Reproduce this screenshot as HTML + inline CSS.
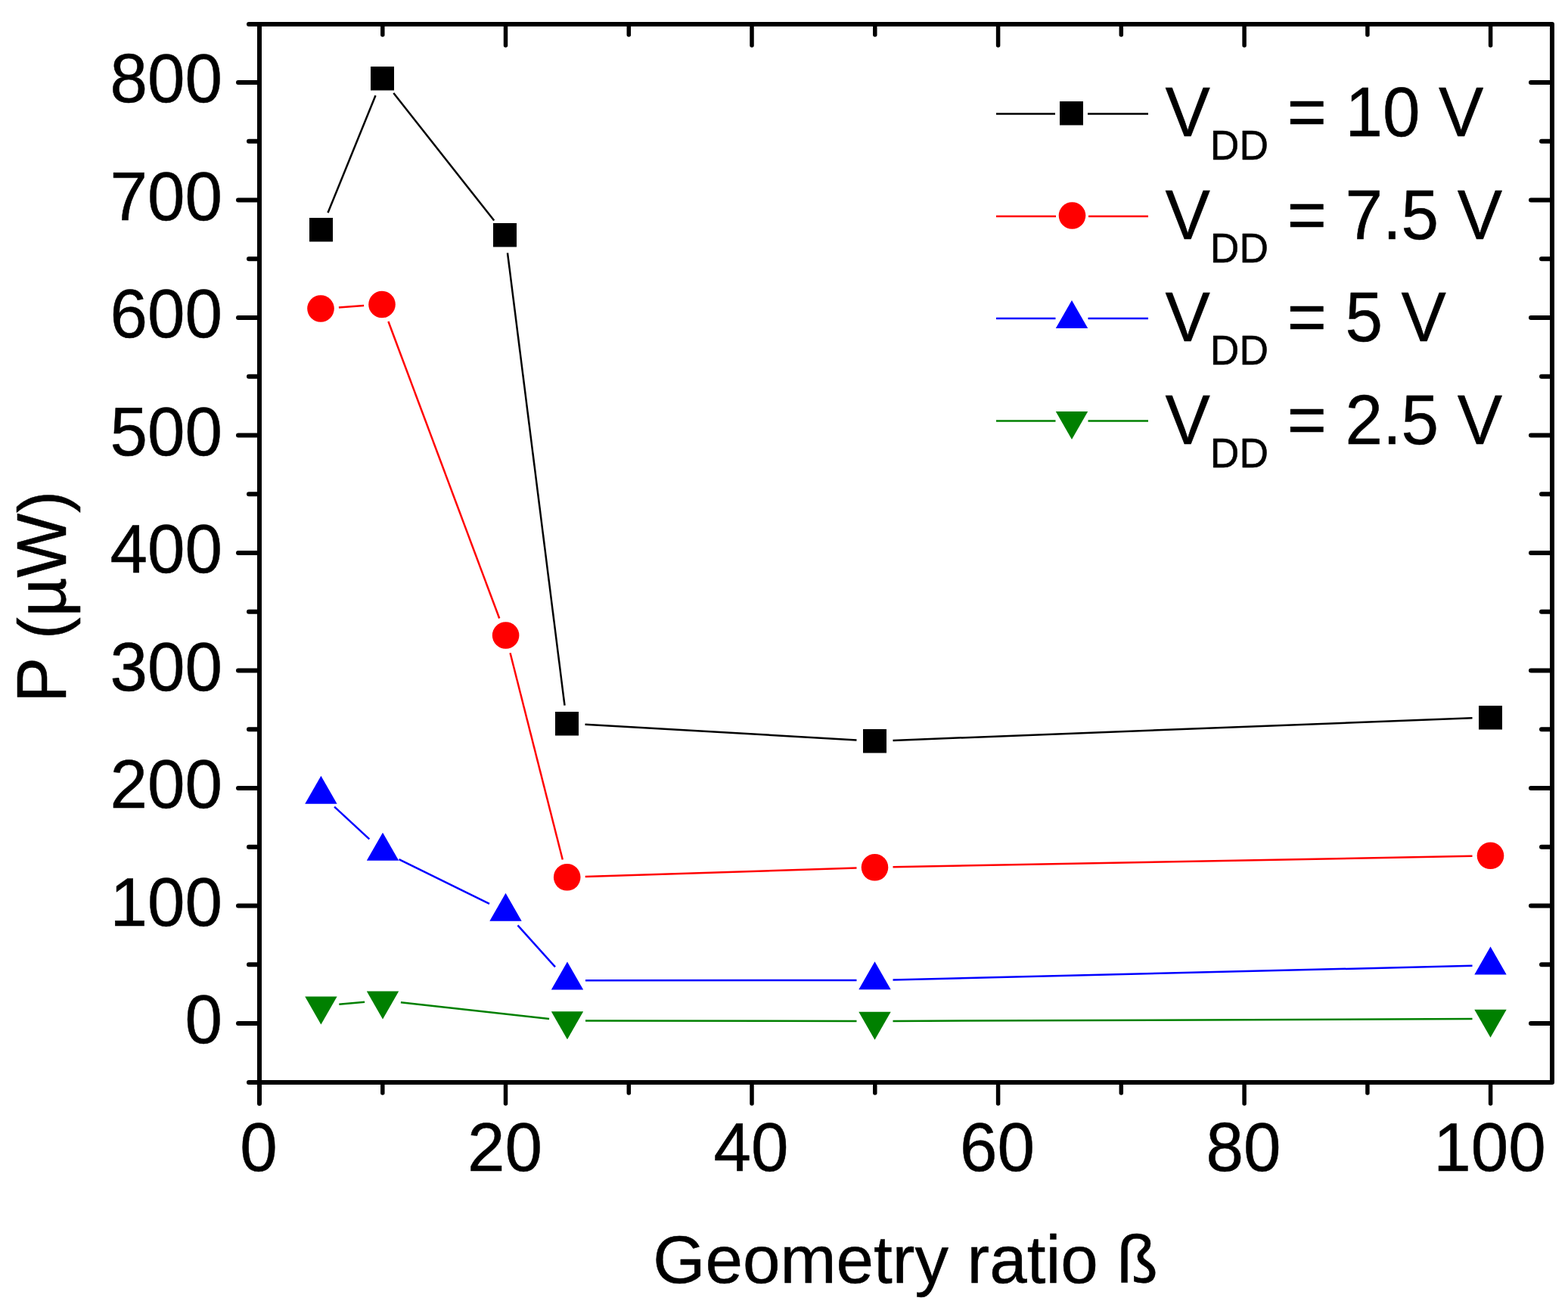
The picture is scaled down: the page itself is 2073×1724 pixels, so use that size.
<!DOCTYPE html>
<html lang="en">
<head>
<meta charset="utf-8">
<title>P vs geometry ratio</title>
<style>
html,body{margin:0;padding:0;background:#ffffff;}
body{width:2073px;height:1724px;overflow:hidden;}
svg{display:block;}
text{font-family:"Liberation Sans", Arial, Helvetica, sans-serif;font-size:89px;fill:#000;stroke:#000;stroke-width:0.5px;stroke-linejoin:round;}
.sub{font-size:53.4px;}
.ax{stroke:#000;stroke-width:6;stroke-linecap:round;stroke-linejoin:round;fill:none;}
</style>
</head>
<body>
<svg width="2073" height="1724" viewBox="0 0 2073 1724">
<rect width="2073" height="1724" fill="#ffffff"/>

<g id="lines" fill="none" stroke-linecap="butt">
<line x1="433.5" y1="281.3" x2="496.5" y2="126.2" stroke="#000000" stroke-width="2.5"/>
<line x1="520.3" y1="122.9" x2="653.2" y2="291.6" stroke="#000000" stroke-width="2.5"/>
<line x1="671.0" y1="334.3" x2="746.5" y2="932.6" stroke="#000000" stroke-width="2.5"/>
<line x1="773.5" y1="957.8" x2="1132.5" y2="978.4" stroke="#000000" stroke-width="2.5"/>
<line x1="1180.5" y1="978.9" x2="1946.5" y2="949.2" stroke="#000000" stroke-width="2.5"/>
<line x1="447.9" y1="406.4" x2="481.1" y2="404.1" stroke="#ff0000" stroke-width="2.5"/>
<line x1="513.4" y1="425.0" x2="660.2" y2="817.5" stroke="#ff0000" stroke-width="2.5"/>
<line x1="674.5" y1="863.3" x2="743.8" y2="1136.5" stroke="#ff0000" stroke-width="2.5"/>
<line x1="773.7" y1="1159.0" x2="1132.5" y2="1147.6" stroke="#ff0000" stroke-width="2.5"/>
<line x1="1180.5" y1="1146.3" x2="1946.5" y2="1131.8" stroke="#ff0000" stroke-width="2.5"/>
<line x1="442.1" y1="1066.7" x2="488.3" y2="1109.3" stroke="#0000ff" stroke-width="2.5"/>
<line x1="527.5" y1="1136.1" x2="647.0" y2="1194.9" stroke="#0000ff" stroke-width="2.5"/>
<line x1="684.5" y1="1223.4" x2="734.0" y2="1278.4" stroke="#0000ff" stroke-width="2.5"/>
<line x1="774.0" y1="1296.3" x2="1132.5" y2="1296.0" stroke="#0000ff" stroke-width="2.5"/>
<line x1="1180.5" y1="1295.4" x2="1946.5" y2="1276.8" stroke="#0000ff" stroke-width="2.5"/>
<line x1="448.3" y1="1327.7" x2="482.1" y2="1324.8" stroke="#008000" stroke-width="2.5"/>
<line x1="529.9" y1="1325.3" x2="726.1" y2="1347.0" stroke="#008000" stroke-width="2.5"/>
<line x1="774.0" y1="1349.6" x2="1132.5" y2="1350.0" stroke="#008000" stroke-width="2.5"/>
<line x1="1180.5" y1="1349.9" x2="1946.5" y2="1347.1" stroke="#008000" stroke-width="2.5"/>
</g>
<g id="markers">
<rect x="409" y="288" width="31" height="31.5" fill="#000000"/>
<rect x="490" y="88" width="31" height="31.5" fill="#000000"/>
<rect x="652" y="295" width="31" height="31.5" fill="#000000"/>
<rect x="734" y="941" width="31" height="31.5" fill="#000000"/>
<rect x="1141" y="964" width="31" height="31.5" fill="#000000"/>
<rect x="1955" y="933" width="31" height="31.5" fill="#000000"/>
<circle cx="424.0" cy="408.0" r="17.8" fill="#ff0000"/>
<circle cx="505.0" cy="402.5" r="17.8" fill="#ff0000"/>
<circle cx="668.6" cy="840.0" r="17.8" fill="#ff0000"/>
<circle cx="749.7" cy="1159.8" r="17.8" fill="#ff0000"/>
<circle cx="1156.5" cy="1146.8" r="17.8" fill="#ff0000"/>
<circle cx="1970.5" cy="1131.3" r="17.8" fill="#ff0000"/>
<polygon points="403.2,1062.8 445.6,1062.8 424.4,1025.8" fill="#0000ff"/>
<polygon points="484.8,1137.8 527.2,1137.8 506.0,1100.8" fill="#0000ff"/>
<polygon points="647.3,1217.8 689.7,1217.8 668.5,1180.8" fill="#0000ff"/>
<polygon points="728.8,1308.6 771.2,1308.6 750.0,1271.6" fill="#0000ff"/>
<polygon points="1135.3,1308.3 1177.7,1308.3 1156.5,1271.3" fill="#0000ff"/>
<polygon points="1949.3,1288.5 1991.7,1288.5 1970.5,1251.5" fill="#0000ff"/>
<polygon points="403.2,1317.5 445.6,1317.5 424.4,1354.5" fill="#008000"/>
<polygon points="484.8,1310.4 527.2,1310.4 506.0,1347.4" fill="#008000"/>
<polygon points="728.8,1337.3 771.2,1337.3 750.0,1374.3" fill="#008000"/>
<polygon points="1135.3,1337.7 1177.7,1337.7 1156.5,1374.7" fill="#008000"/>
<polygon points="1949.3,1334.7 1991.7,1334.7 1970.5,1371.7" fill="#008000"/>
</g>
<g id="axes" class="ax">
<rect x="343.0" y="32.0" width="1709.0" height="1399.0"/>
<line x1="343.0" y1="1431.0" x2="343.0" y2="1459.0"/>
<line x1="505.8" y1="1431.0" x2="505.8" y2="1445.0" stroke-width="5.5"/>
<line x1="505.8" y1="32.0" x2="505.8" y2="46.0" stroke-width="5.5"/>
<line x1="668.5" y1="1431.0" x2="668.5" y2="1459.0" stroke-width="5.5"/>
<line x1="668.5" y1="32.0" x2="668.5" y2="60.0" stroke-width="5.5"/>
<line x1="831.3" y1="1431.0" x2="831.3" y2="1445.0" stroke-width="5.5"/>
<line x1="831.3" y1="32.0" x2="831.3" y2="46.0" stroke-width="5.5"/>
<line x1="994.0" y1="1431.0" x2="994.0" y2="1459.0" stroke-width="5.5"/>
<line x1="994.0" y1="32.0" x2="994.0" y2="60.0" stroke-width="5.5"/>
<line x1="1156.8" y1="1431.0" x2="1156.8" y2="1445.0" stroke-width="5.5"/>
<line x1="1156.8" y1="32.0" x2="1156.8" y2="46.0" stroke-width="5.5"/>
<line x1="1319.6" y1="1431.0" x2="1319.6" y2="1459.0" stroke-width="5.5"/>
<line x1="1319.6" y1="32.0" x2="1319.6" y2="60.0" stroke-width="5.5"/>
<line x1="1482.3" y1="1431.0" x2="1482.3" y2="1445.0" stroke-width="5.5"/>
<line x1="1482.3" y1="32.0" x2="1482.3" y2="46.0" stroke-width="5.5"/>
<line x1="1645.1" y1="1431.0" x2="1645.1" y2="1459.0" stroke-width="5.5"/>
<line x1="1645.1" y1="32.0" x2="1645.1" y2="60.0" stroke-width="5.5"/>
<line x1="1807.9" y1="1431.0" x2="1807.9" y2="1445.0" stroke-width="5.5"/>
<line x1="1807.9" y1="32.0" x2="1807.9" y2="46.0" stroke-width="5.5"/>
<line x1="1970.6" y1="1431.0" x2="1970.6" y2="1459.0" stroke-width="5.5"/>
<line x1="1970.6" y1="32.0" x2="1970.6" y2="60.0" stroke-width="5.5"/>
<line x1="343.0" y1="1431.0" x2="329.0" y2="1431.0"/>
<line x1="343.0" y1="1353.0" x2="315.0" y2="1353.0"/>
<line x1="2052.0" y1="1353.0" x2="2024.0" y2="1353.0"/>
<line x1="343.0" y1="1275.2" x2="329.0" y2="1275.2"/>
<line x1="2052.0" y1="1275.2" x2="2038.0" y2="1275.2"/>
<line x1="343.0" y1="1197.5" x2="315.0" y2="1197.5"/>
<line x1="2052.0" y1="1197.5" x2="2024.0" y2="1197.5"/>
<line x1="343.0" y1="1119.8" x2="329.0" y2="1119.8"/>
<line x1="2052.0" y1="1119.8" x2="2038.0" y2="1119.8"/>
<line x1="343.0" y1="1042.0" x2="315.0" y2="1042.0"/>
<line x1="2052.0" y1="1042.0" x2="2024.0" y2="1042.0"/>
<line x1="343.0" y1="964.2" x2="329.0" y2="964.2"/>
<line x1="2052.0" y1="964.2" x2="2038.0" y2="964.2"/>
<line x1="343.0" y1="886.5" x2="315.0" y2="886.5"/>
<line x1="2052.0" y1="886.5" x2="2024.0" y2="886.5"/>
<line x1="343.0" y1="808.8" x2="329.0" y2="808.8"/>
<line x1="2052.0" y1="808.8" x2="2038.0" y2="808.8"/>
<line x1="343.0" y1="731.0" x2="315.0" y2="731.0"/>
<line x1="2052.0" y1="731.0" x2="2024.0" y2="731.0"/>
<line x1="343.0" y1="653.2" x2="329.0" y2="653.2"/>
<line x1="2052.0" y1="653.2" x2="2038.0" y2="653.2"/>
<line x1="343.0" y1="575.5" x2="315.0" y2="575.5"/>
<line x1="2052.0" y1="575.5" x2="2024.0" y2="575.5"/>
<line x1="343.0" y1="497.8" x2="329.0" y2="497.8"/>
<line x1="2052.0" y1="497.8" x2="2038.0" y2="497.8"/>
<line x1="343.0" y1="420.0" x2="315.0" y2="420.0"/>
<line x1="2052.0" y1="420.0" x2="2024.0" y2="420.0"/>
<line x1="343.0" y1="342.2" x2="329.0" y2="342.2"/>
<line x1="2052.0" y1="342.2" x2="2038.0" y2="342.2"/>
<line x1="343.0" y1="264.5" x2="315.0" y2="264.5"/>
<line x1="2052.0" y1="264.5" x2="2024.0" y2="264.5"/>
<line x1="343.0" y1="186.8" x2="329.0" y2="186.8"/>
<line x1="2052.0" y1="186.8" x2="2038.0" y2="186.8"/>
<line x1="343.0" y1="109.0" x2="315.0" y2="109.0"/>
<line x1="2052.0" y1="109.0" x2="2024.0" y2="109.0"/>
<line x1="343.0" y1="32.0" x2="329.0" y2="32.0"/>
</g>
<g id="xlabels">
<text transform="translate(342.0,1548.0) scale(1,1.025)" text-anchor="middle">0</text>
<text transform="translate(667.5,1548.0) scale(1,1.025)" text-anchor="middle">20</text>
<text transform="translate(993.0,1548.0) scale(1,1.025)" text-anchor="middle">40</text>
<text transform="translate(1318.6,1548.0) scale(1,1.025)" text-anchor="middle">60</text>
<text transform="translate(1644.1,1548.0) scale(1,1.025)" text-anchor="middle">80</text>
<text transform="translate(1969.6,1548.0) scale(1,1.025)" text-anchor="middle">100</text>
</g>
<g id="ylabels">
<text transform="translate(294.0,1379.0) scale(1,1.025)" text-anchor="end">0</text>
<text transform="translate(294.0,1223.5) scale(1,1.025)" text-anchor="end">100</text>
<text transform="translate(294.0,1068.0) scale(1,1.025)" text-anchor="end">200</text>
<text transform="translate(294.0,912.5) scale(1,1.025)" text-anchor="end">300</text>
<text transform="translate(294.0,757.0) scale(1,1.025)" text-anchor="end">400</text>
<text transform="translate(294.0,601.5) scale(1,1.025)" text-anchor="end">500</text>
<text transform="translate(294.0,446.0) scale(1,1.025)" text-anchor="end">600</text>
<text transform="translate(294.0,290.5) scale(1,1.025)" text-anchor="end">700</text>
<text transform="translate(294.0,135.0) scale(1,1.025)" text-anchor="end">800</text>
</g>
<text transform="translate(1197.0,1695.5)" text-anchor="middle" stroke-width="0.3">Geometry ratio ß</text>
<text transform="translate(87.0,929.0) rotate(-90) scale(1.012,1.04)">P <tspan font-size="85.5" dx="0.6">(</tspan><tspan dx="0.6">µW</tspan><tspan font-size="85.5" dx="0.6">)</tspan></text>
<g id="legend">
<line x1="1317" y1="150.5" x2="1395.0" y2="150.5" stroke="#000000" stroke-width="2.5"/>
<line x1="1438.0" y1="150.5" x2="1518" y2="150.5" stroke="#000000" stroke-width="2.5"/>
<rect x="1401" y="134" width="31" height="31.5" fill="#000000"/>
<text transform="translate(1540.5,179.9) scale(1,1.04)">V<tspan class="sub" dy="30.29">DD</tspan><tspan dy="-30.29"> = 10 V</tspan></text>
<line x1="1317" y1="286.0" x2="1396.0" y2="286.0" stroke="#ff0000" stroke-width="2.5"/>
<line x1="1439.0" y1="286.0" x2="1518" y2="286.0" stroke="#ff0000" stroke-width="2.5"/>
<circle cx="1417.5" cy="285.0" r="17.8" fill="#ff0000"/>
<text transform="translate(1540.5,315.5) scale(1,1.04)">V<tspan class="sub" dy="30.29">DD</tspan><tspan dy="-30.29"> = 7.5 V</tspan></text>
<line x1="1317" y1="421.0" x2="1395.5" y2="421.0" stroke="#0000ff" stroke-width="2.5"/>
<line x1="1438.5" y1="421.0" x2="1518" y2="421.0" stroke="#0000ff" stroke-width="2.5"/>
<polygon points="1395.8,434.0 1438.2,434.0 1417.0,397.0" fill="#0000ff"/>
<text transform="translate(1540.5,450.9) scale(1,1.04)">V<tspan class="sub" dy="30.29">DD</tspan><tspan dy="-30.29"> = 5 V</tspan></text>
<line x1="1317" y1="556.5" x2="1395.5" y2="556.5" stroke="#008000" stroke-width="2.5"/>
<line x1="1438.5" y1="556.5" x2="1518" y2="556.5" stroke="#008000" stroke-width="2.5"/>
<polygon points="1395.8,544.0 1438.2,544.0 1417.0,581.0" fill="#008000"/>
<text transform="translate(1540.5,586.9) scale(1,1.04)">V<tspan class="sub" dy="30.29">DD</tspan><tspan dy="-30.29"> = 2.5 V</tspan></text>
</g>
</svg>
</body>
</html>
